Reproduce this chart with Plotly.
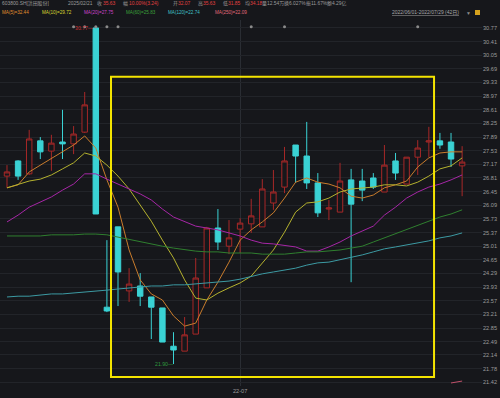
import plotly.graph_objects as go

# ---------------- data ----------------
dates = ["2022-06-01", "2022-06-02", "2022-06-06", "2022-06-07", "2022-06-08", "2022-06-09",
         "2022-06-10", "2022-06-13", "2022-06-14", "2022-06-15", "2022-06-16", "2022-06-17",
         "2022-06-20", "2022-06-21", "2022-06-22", "2022-06-23", "2022-06-24", "2022-06-27",
         "2022-06-28", "2022-06-29", "2022-06-30", "2022-07-01", "2022-07-04", "2022-07-05",
         "2022-07-06", "2022-07-07", "2022-07-08", "2022-07-11", "2022-07-12", "2022-07-13",
         "2022-07-14", "2022-07-15", "2022-07-18", "2022-07-19", "2022-07-20", "2022-07-21",
         "2022-07-22", "2022-07-25", "2022-07-26", "2022-07-27", "2022-07-28", "2022-07-29"]

opens = [26.86, 27.26, 26.92, 27.79, 27.52, 27.76, 27.71, 28.02, 30.77, 23.40, 25.52, 23.83,
         23.96, 23.67, 23.38, 22.37, 22.24, 22.69, 23.91, 25.49, 25.01, 25.46, 25.60, 25.52,
         26.15, 26.57, 27.68, 27.39, 26.68, 25.99, 25.91, 26.76, 26.73, 26.81, 26.44, 27.26,
         26.65, 27.36, 27.76, 27.79, 27.76, 27.13]
highs = [27.15, 27.28, 28.08, 27.89, 27.95, 28.61, 28.18, 29.08, 30.77, 25.17, 25.52, 24.43,
         24.30, 23.67, 23.38, 22.74, 23.14, 24.70, 25.52, 25.99, 25.70, 25.75, 26.26, 26.78,
         27.02, 27.63, 27.68, 28.29, 26.94, 26.23, 27.21, 27.05, 27.05, 26.94, 27.68, 27.47,
         27.36, 27.81, 28.16, 28.00, 28.00, 27.65]
lows = [26.55, 26.76, 26.89, 27.31, 27.00, 27.31, 27.44, 28.00, 25.86, 23.27, 23.43, 23.54,
        23.43, 22.56, 22.48, 21.90, 22.24, 22.69, 23.91, 24.91, 24.80, 24.83, 25.36, 25.52,
        25.97, 26.41, 26.68, 26.52, 25.78, 25.70, 25.91, 24.06, 26.20, 26.52, 26.44, 26.76,
        26.65, 26.89, 27.36, 27.58, 27.10, 26.33]
closes = [26.97, 26.86, 27.84, 27.50, 27.73, 27.71, 27.97, 28.74, 25.86, 23.30, 24.33, 24.01,
          23.69, 23.40, 22.48, 22.27, 22.67, 24.17, 25.49, 25.12, 25.23, 25.62, 25.81, 26.52,
          26.44, 27.26, 27.39, 26.68, 25.89, 26.02, 26.73, 26.12, 26.49, 26.57, 27.15, 26.94,
          27.36, 27.60, 27.79, 27.68, 27.31, 27.23]

ma5 = [26.55, 26.63, 26.97, 27.15, 27.34, 27.50, 27.68, 27.92, 27.60, 26.76, 26.04, 24.91,
       24.12, 23.75, 23.59, 23.17, 22.90, 22.98, 23.59, 24.06, 24.59, 25.17, 25.44, 25.65,
       25.89, 26.28, 26.70, 26.81, 26.70, 26.65, 26.55, 26.33, 26.28, 26.36, 26.55, 26.63,
       26.73, 27.10, 27.34, 27.47, 27.50, 27.50]
ma10 = [26.55, 26.63, 26.73, 26.78, 26.89, 27.05, 27.21, 27.47, 27.39, 27.15, 26.86, 26.52,
        26.10, 25.67, 25.17, 24.70, 24.12, 23.64, 23.59, 23.77, 23.91, 24.04, 24.22, 24.57,
        24.91, 25.38, 25.91, 26.15, 26.18, 26.28, 26.44, 26.52, 26.55, 26.57, 26.63, 26.63,
        26.60, 26.70, 26.86, 27.05, 27.13, 27.34]
ma20 = [25.65, 25.83, 26.04, 26.18, 26.31, 26.49, 26.65, 26.92, 26.92, 26.78, 26.65, 26.52,
        26.39, 26.23, 25.99, 25.78, 25.65, 25.54, 25.49, 25.44, 25.36, 25.28, 25.17, 25.09,
        25.07, 25.04, 24.99, 24.88, 24.88, 24.99, 25.12, 25.28, 25.41, 25.54, 25.83, 26.04,
        26.28, 26.44, 26.57, 26.65, 26.76, 26.89]
ma60 = [25.28, 25.28, 25.28, 25.28, 25.31, 25.31, 25.31, 25.33, 25.33, 25.31, 25.25, 25.17,
        25.12, 25.07, 25.01, 24.96, 24.91, 24.88, 24.86, 24.86, 24.83, 24.83, 24.83, 24.80,
        24.80, 24.80, 24.83, 24.86, 24.86, 24.88, 24.91, 24.96, 25.01, 25.12, 25.23, 25.33,
        25.46, 25.57, 25.67, 25.78, 25.86, 25.97]
ma120 = [23.67, 23.69, 23.69, 23.72, 23.75, 23.75, 23.77, 23.80, 23.83, 23.85, 23.88, 23.91,
         23.93, 23.96, 23.96, 23.99, 23.99, 24.01, 24.04, 24.06, 24.09, 24.14, 24.22, 24.28,
         24.33, 24.38, 24.43, 24.51, 24.57, 24.59, 24.65, 24.72, 24.78, 24.86, 24.94, 24.99,
         25.04, 25.09, 25.15, 25.23, 25.28, 25.36]
ma250 = [None] * 40 + [21.40, 21.45]

ma_series = [
    ("MA(5)", ma5, "#c97c2c", "#e0902e", "32.44"),
    ("MA(10)", ma10, "#b5b22e", "#d8d430", "29.72"),
    ("MA(20)", ma20, "#a626a6", "#cc44cc", "27.75"),
    ("MA(60)", ma60, "#2f7f2f", "#3aa03a", "25.83"),
    ("MA(120)", ma120, "#3c9aa3", "#40c0c8", "22.74"),
    ("MA(250)", ma250, "#c0506a", "#e06a7a", "22.09"),
]

ytick_vals = [30.77, 30.41, 30.05, 29.69, 29.33, 28.97, 28.61, 28.25, 27.89, 27.53, 27.17,
              26.81, 26.45, 26.09, 25.73, 25.37, 25.01, 24.65, 24.29, 23.93, 23.57, 23.21,
              22.85, 22.49, 22.14, 21.78, 21.42]
xtick_vals = ["2022-07-01"]
xtick_text = ["22-07"]

event_dates = ["2022-06-10", "2022-06-13", "2022-06-14", "2022-06-15", "2022-06-16",
               "2022-07-04", "2022-07-07", "2022-07-25"]
event_level = 30.80

max_label = ("2022-06-14", 30.77, "30.77—")
min_label = ("2022-06-23", 21.90, "21.90—")

box_x = [9.37, 38.47]       # drawn rectangle (category index)
box_y = [21.56, 29.48]

# header: (label x, label, value x, value, value is red)
header_items = [
    (2, "603800.SH[洪田股份]", None, None, False),
    (68, "2025/02/21", None, None, False),
    (97, "收", 103, "35.63", True),
    (123, "幅", 128.5, "10.00%(3.24)", True),
    (173, "开", 178, "32.07", True),
    (198, "高", 203, "35.63", True),
    (223, "低", 228, "31.85", True),
    (245, "均", 250, "34.18", True),
    (262, "量", 267, "12.54万", False),
    (284, "换", 289, "6.027%", False),
    (306, "振", 311, "11.67%", False),
    (327, "额", 332, "4.29亿", False),
]
ma_label_x = [2, 42, 84, 126, 168, 215]

# ---------------- layout constants ----------------
W, H = 500, 398
PLOT_W = 482
PLOT_TOP, PLOT_BOT = 20, 386
PLOT_H = PLOT_BOT - PLOT_TOP
BG = "#16171b"
GRAY = "#9c9c9c"
RED = "#e04040"
FONT = "Liberation Sans, Noto Sans CJK SC, sans-serif"

fig = go.Figure()

fig.add_trace(go.Candlestick(
    x=dates, open=opens, high=highs, low=lows, close=closes,
    increasing=dict(line=dict(color="#a82828", width=1), fillcolor=BG),
    decreasing=dict(line=dict(color="#3ad2d4", width=1), fillcolor="#3ad2d4"),
    hoverinfo="skip",
))

for name, vals, lc, tc, last in ma_series:
    fig.add_trace(go.Scatter(x=dates, y=vals, mode="lines",
                             line=dict(color=lc, width=1), hoverinfo="skip"))

fig.add_trace(go.Scatter(x=event_dates, y=[event_level] * len(event_dates), mode="markers",
                         marker=dict(color="#8a8a8a", size=3), hoverinfo="skip"))

annotations = []


def px_ann(x_px, y_px, text, color=GRAY, size=4.9):
    return dict(xref="paper", yref="paper", x=x_px / PLOT_W, y=(PLOT_BOT - y_px) / PLOT_H,
                text=text, showarrow=False, xanchor="left", yanchor="middle",
                borderpad=0, borderwidth=0, font=dict(color=color, size=size, family=FONT))


for lx, lab, vx, val, is_red in header_items:
    annotations.append(px_ann(lx, 4, lab))
    if val is not None:
        annotations.append(px_ann(vx, 4, val, color=RED if is_red else GRAY))

for (name, vals, lc, tc, last), xp in zip(ma_series, ma_label_x):
    annotations.append(px_ann(xp, 12.5, f"{name}={last}", color=tc, size=4.6))

annotations.append(px_ann(392, 12.5, "<span style='text-decoration:underline'>2022/06/01-2022/07/29 (42日)</span>",
                          color="#a8a8a8", size=5.0))
annotations.append(px_ann(466, 12.5, "▼", color="#8c8c8c", size=5))

annotations.append(dict(x=max_label[0], y=max_label[1], xref="x", yref="y", text=max_label[2],
                        showarrow=False, xanchor="right", yanchor="middle", xshift=-2,
                        borderpad=0, borderwidth=0,
                        font=dict(color="#d03030", size=5.2, family=FONT)))
annotations.append(dict(x=min_label[0], y=min_label[1], xref="x", yref="y", text=min_label[2],
                        showarrow=False, xanchor="right", yanchor="middle", xshift=0,
                        borderpad=0, borderwidth=0,
                        font=dict(color="#2f9a3f", size=5.2, family=FONT)))

shapes = [
    dict(type="rect", xref="x", yref="y", x0=box_x[0], x1=box_x[1], y0=box_y[0], y1=box_y[1],
         line=dict(color="#f4e400", width=2), fillcolor="rgba(0,0,0,0)", layer="above"),
    dict(type="rect", xref="paper", yref="paper",
         x0=475 / PLOT_W, x1=480 / PLOT_W, y0=(PLOT_BOT - 15) / PLOT_H, y1=(PLOT_BOT - 10) / PLOT_H,
         line=dict(width=0), fillcolor="#d6a21e"),
]

fig.update_layout(
    width=W, height=H,
    margin=dict(l=0, r=W - PLOT_W, t=PLOT_TOP, b=H - PLOT_BOT),
    paper_bgcolor=BG, plot_bgcolor=BG,
    showlegend=False,
    annotations=annotations,
    shapes=shapes,
    xaxis=dict(type="category", range=[-0.63, 42.79], rangeslider=dict(visible=False),
               tickvals=xtick_vals, ticktext=xtick_text, showgrid=True, gridcolor="#2a2d33",
               gridwidth=1, zeroline=False, showline=False, ticks="",
               tickfont=dict(color=GRAY, size=5.6, family=FONT), fixedrange=True),
    yaxis=dict(side="right", range=[21.32, 30.98], tickvals=ytick_vals,
               ticktext=[f"{v:.2f}" for v in ytick_vals], showgrid=True, gridcolor="#222429",
               gridwidth=1, zeroline=False, showline=False, ticks="",
               tickfont=dict(color=GRAY, size=5.6, family=FONT), fixedrange=True),
)

fig.write_html("out.html", config={"displayModeBar": False},
               post_script="document.body.style.margin='0';")
